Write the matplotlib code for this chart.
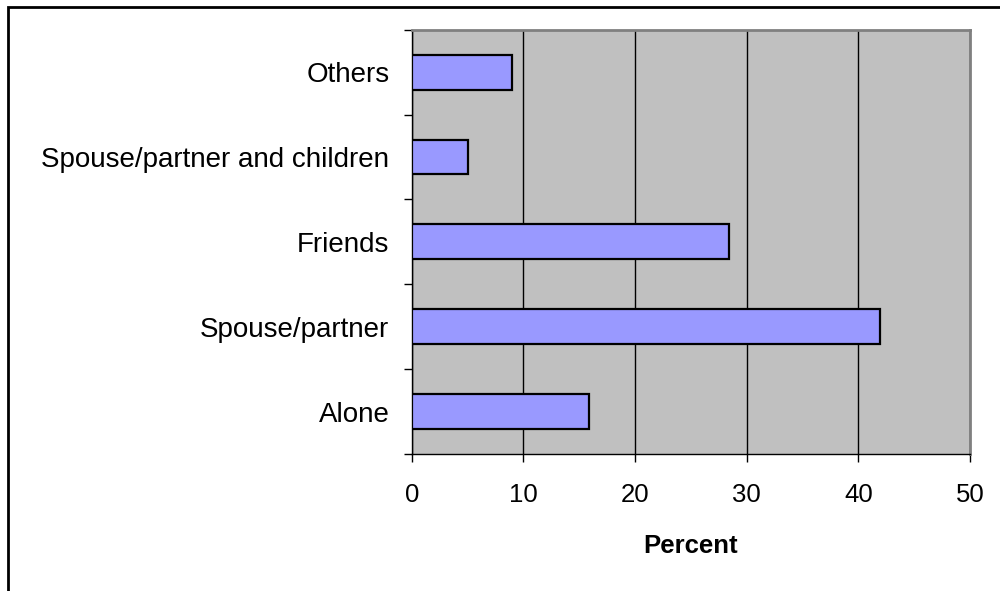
import matplotlib.pyplot as plt
from matplotlib.patches import Rectangle

# who respondents live with, share of sample (%)
categories = ["Alone", "Spouse/partner", "Friends",
              "Spouse/partner and children", "Others"]
percent = [15.9, 41.9, 28.4, 5.0, 9.0]
xticks = [0, 10, 20, 30, 40, 50]

plt.rcParams['font.family'] = ['Liberation Sans', 'DejaVu Sans']

fig = plt.figure(figsize=(10, 5.91), dpi=100)
ax = fig.add_axes([0.4117, 0.2318, 0.5583, 0.7179])

ax.set_facecolor('#C0C0C0')
ax.barh(range(len(categories)), percent, height=0.41,
        color='#9999FF', edgecolor='black', linewidth=1.6, zorder=3)

ax.set_xlim(0, 50)
ax.set_ylim(-0.5, len(categories) - 0.5)
ax.set_xticks(xticks)
ax.set_xticklabels([str(t) for t in xticks], fontsize=18.5)
ax.tick_params(axis='x', length=6, width=1, pad=15, direction='out')

# category labels sit between the tick marks, ticks mark the boundaries
ax.set_yticks([i - 0.5 for i in range(len(categories) + 1)])
ax.set_yticklabels([])
ax.set_yticks(range(len(categories)), minor=True)
ax.set_yticklabels(categories, minor=True, fontsize=20)
ax.tick_params(axis='y', which='major', length=6, width=1, direction='out')
ax.tick_params(axis='y', which='minor', length=0, pad=16)

ax.grid(axis='x', color='black', linewidth=1, zorder=1)
ax.set_axisbelow(True)

for side in ['left', 'bottom']:
    ax.spines[side].set_color('black')
    ax.spines[side].set_linewidth(1)
for side in ['top', 'right']:
    ax.spines[side].set_color('#808080')
    ax.spines[side].set_linewidth(2)

ax.set_xlabel("Percent", fontsize=18.5, fontweight='bold', labelpad=19)

# outer chart border
fig.patches.append(Rectangle((0.008, -0.05), 1.1, 1.038, transform=fig.transFigure,
                             fill=False, edgecolor='black', linewidth=2))

fig.savefig('out.png', dpi=100)
